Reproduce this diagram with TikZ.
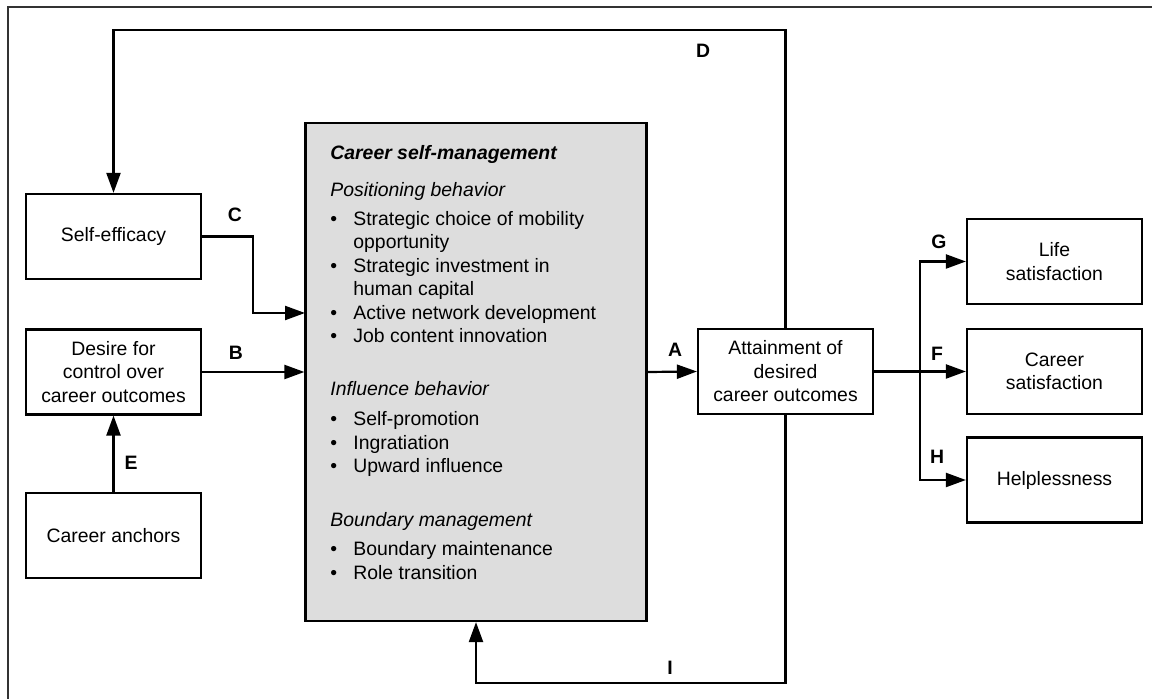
\documentclass[tikz,border=0pt]{standalone}
\usepackage{fontspec}
\setmainfont{Liberation Sans}
\usepackage{xcolor}
\usetikzlibrary{arrows.meta,positioning}
\definecolor{csmgray}{HTML}{DDDDDD}
\newcommand{\bulitem}[1]{\makebox[11.5pt][l]{\textbullet}#1}

\begin{document}
\begin{tikzpicture}[x=0.5pt,y=-0.5pt,
      every node/.style={font=\fontsize{9.7}{11.75}\selectfont},
      box/.style={draw, rectangle, line width=1.1pt, align=center,
                  minimum width=87.5pt, minimum height=42.5pt, inner sep=2pt},
      arr/.style={line width=1.1pt, -{Triangle[length=10pt,width=7pt]}},
      lbl/.style={font=\fontsize{9.7}{11.75}\selectfont\bfseries, inner sep=0pt}
    ]
    \useasboundingbox (0,0) rectangle (1152,699);
    % frame
    \draw[line width=0.7pt, black!80] (8,699) -- (8,7) -- (1152,7);

    % left column
    \node[box] (selfeff) at (113.5,236.5) {Self-efficacy};
    \node[box] (desire) at (113.5,372) {Desire for\\control over\\career outcomes};
    \node[box] (anchors) at (113.5,535.5) {Career anchors};

    % career self-management
    \node[draw, rectangle, line width=1.1pt, fill=csmgray,
          minimum width=170.5pt, minimum height=249pt] (csm) at (476,372) {};
    \node[anchor=north west, align=left, inner sep=0pt] (csmtext) at (330,145) {%
        {\bfseries\itshape Career self-management}\\[6.75pt]
        {\itshape Positioning behavior}\\[2.75pt]
        \bulitem{Strategic choice of mobility}\\
        \hspace*{11.5pt}opportunity\\
        \bulitem{Strategic investment in}\\
        \hspace*{11.5pt}human capital\\
        \bulitem{Active network development}\\
        \bulitem{Job content innovation}\\[14.75pt]
        {\itshape Influence behavior}\\[3.25pt]
        \bulitem{Self-promotion}\\
        \bulitem{Ingratiation}\\
        \bulitem{Upward influence}\\[15.25pt]
        {\itshape Boundary management}\\[2.75pt]
        \bulitem{Boundary maintenance}\\
        \bulitem{Role transition}};

    % outcomes
    \node[box] (attain) at (785.5,371.5) {Attainment of\\desired\\career outcomes};
    \node[box] (life) at (1054.5,261.5) {Life\\satisfaction};
    \node[box] (carsat) at (1054.5,371.5) {Career\\satisfaction};
    \node[box] (helpless) at (1054.5,480) {Helplessness};

    % connectors
    \coordinate (dtop) at (113.5,30);
    \coordinate (ibot) at (785.5,683);
    \coordinate (cin) at (305,313);
    \coordinate (split) at (920,372);
    \draw[arr] (attain.north) |- (dtop) -- (selfeff.north);
    \draw[arr] (attain.south) -- (ibot) -| (csm.south);
    \draw[arr] (selfeff.east) -- ++(51,0) |- (cin);
    \draw[arr] (desire.east) -- (csm.west);
    \draw[arr] (anchors.north) -- (desire.south);
    \draw[arr] (csm.east) -- (attain.west);
    \draw[arr] (attain.east) -- (carsat.west);
    \draw[arr] (split) |- (life.west);
    \draw[arr] (split) |- (helpless.west);

    % path labels
    \node[lbl] (lblA) at (675,350) {A};
    \node[lbl] (lblB) at (236,353) {B};
    \node[lbl] (lblC) at (235,215) {C};
    \node[lbl] (lblD) at (703,51) {D};
    \node[lbl] (lblE) at (131,463) {E};
    \node[lbl] (lblF) at (937,354) {F};
    \node[lbl] (lblG) at (939,242) {G};
    \node[lbl] (lblH) at (937,457) {H};
    \node[lbl] (lblI) at (670,668) {I};
\end{tikzpicture}
\end{document}
